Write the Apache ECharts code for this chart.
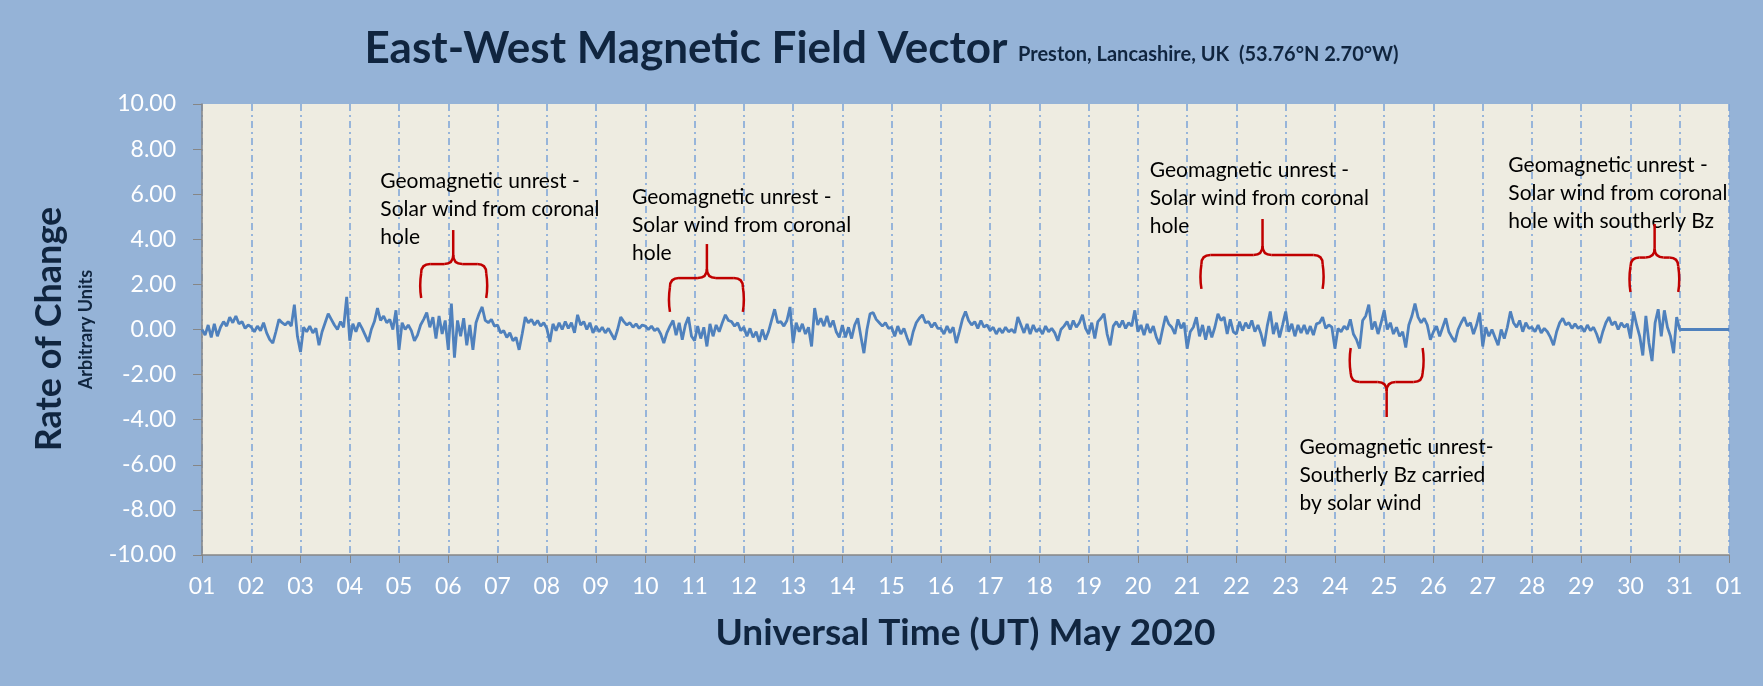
<!DOCTYPE html>
<html><head><meta charset="utf-8">
<script src="https://cdn.jsdelivr.net/npm/echarts@6/dist/echarts.min.js"></script>
<style>html,body{margin:0;padding:0;background:#95B3D7}#c{width:1763px;height:686px}</style>
</head><body><div id="c"></div>
<script>
// ---- tick labels ----
const xTickLabels = ['01','02','03','04','05','06','07','08','09','10','11','12','13','14','15','16',
  '17','18','19','20','21','22','23','24','25','26','27','28','29','30','31','01'];
const yMin = -10, yMax = 10, yStep = 2;

// ---- series values: rate of change, one value every 1.5 hours (16 per day) ----
const samplesPerDay = 16;
const rocMay01to05 = [
  0.0,-0.25,0.2,-0.35,0.25,-0.3,0.1,0.35,0.15,0.55,0.3,0.6,0.25,0.35,0.05,0.2,
  0.1,-0.1,0.15,-0.05,0.3,-0.15,-0.45,-0.6,-0.1,0.45,0.3,0.2,0.35,0.15,1.1,-0.3,
  -1.0,0.1,-0.1,0.15,-0.15,0.05,-0.7,-0.1,0.3,0.7,0.45,0.2,0.0,0.35,0.1,1.45,
  -0.5,0.25,-0.1,0.3,0.05,-0.25,-0.55,0.0,0.35,0.95,0.4,0.6,0.3,0.45,0.0,0.85,
  -0.9,0.3,0.0,0.2,-0.05,-0.5,-0.25,0.2,0.45,0.75,0.1,0.55,-0.4,0.6,-0.2,0.4
];
const rocMay06to10 = [
  -0.9,1.15,-1.25,0.4,-0.3,0.5,-0.7,0.2,-0.9,0.3,0.7,1.0,0.4,0.3,0.45,0.15,
  0.2,-0.15,-0.05,-0.35,-0.15,-0.5,-0.35,-0.9,-0.2,0.55,0.3,0.45,0.2,0.4,0.15,0.3,
  0.05,-0.55,0.25,-0.05,0.3,0.0,0.35,0.05,0.3,-0.15,0.65,0.2,0.35,0.0,0.3,-0.15,
  0.15,-0.1,0.1,-0.15,0.05,-0.2,-0.45,0.0,0.55,0.35,0.2,0.3,0.1,0.25,0.05,0.2,
  0.15,0.0,0.15,-0.05,0.05,-0.2,-0.6,-0.15,0.15,0.4,-0.25,0.3,-0.45,0.2,0.55,-0.3
];
const rocMay11to15 = [
  -0.5,0.15,-0.4,0.1,-0.75,0.25,-0.3,0.2,-0.1,0.3,0.65,0.4,0.35,0.15,0.3,-0.05,
  0.1,-0.3,0.05,-0.35,-0.1,-0.55,0.0,-0.45,-0.1,0.4,0.9,0.3,0.35,0.15,0.4,1.0,
  -0.6,0.3,-0.1,0.25,-0.2,0.1,-0.75,0.95,0.2,0.5,0.15,0.6,0.1,0.4,-0.1,-0.35,
  0.2,-0.35,0.1,-0.4,0.2,0.5,-0.3,-1.05,0.0,0.7,0.75,0.45,0.3,0.15,0.3,0.05,
  0.1,-0.3,0.15,-0.2,0.05,-0.35,-0.7,-0.1,0.3,0.5,0.65,0.3,0.35,0.1,0.3,0.05
];
const rocMay16to20 = [
  0.05,-0.2,0.15,-0.15,0.1,-0.6,-0.1,0.45,0.8,0.4,0.2,0.35,0.05,0.4,0.1,0.2,
  -0.05,0.1,-0.2,0.05,-0.15,0.1,-0.1,0.0,-0.15,0.55,0.2,-0.15,0.25,-0.2,0.2,-0.1,
  0.05,-0.2,0.15,-0.1,0.05,-0.15,-0.5,0.0,0.15,0.35,0.0,0.4,0.1,0.3,0.65,0.05,
  -0.2,0.3,-0.4,0.35,0.5,0.7,-0.2,-0.7,0.15,0.35,0.1,0.4,0.05,0.3,0.15,0.85,
  -0.1,0.2,-0.25,0.25,-0.15,0.15,-0.35,-0.65,0.0,0.6,0.25,0.1,-0.2,0.45,0.05,0.3
];
const rocMay21to25 = [
  -0.85,-0.1,0.1,0.55,-0.3,0.2,-0.45,0.15,-0.35,0.1,0.7,0.4,0.55,-0.2,0.45,-0.1,
  -0.2,0.35,-0.05,0.3,0.05,0.4,-0.1,0.2,-0.2,-0.75,0.15,0.8,-0.2,0.3,-0.35,0.2,
  0.8,-0.1,0.25,-0.3,0.2,-0.15,0.2,-0.2,0.15,-0.25,0.25,0.3,0.55,0.05,0.2,0.1,
  -0.85,0.05,-0.1,0.15,0.0,0.45,-0.2,-0.45,-0.85,0.4,0.6,1.1,0.0,0.35,-0.2,0.3,
  0.85,0.0,0.3,-0.2,0.1,-0.3,-0.1,-0.8,0.2,0.6,1.15,0.55,0.3,0.5,0.2,-0.45
];
const rocMay26to30 = [
  -0.1,0.15,-0.3,0.1,0.5,-0.1,-0.35,-0.55,0.0,0.3,0.55,0.15,0.3,-0.2,0.2,0.75,
  -0.75,0.1,-0.3,0.0,-0.35,-0.7,0.0,-0.4,0.1,0.8,0.3,0.1,0.4,-0.1,0.3,0.05,
  0.1,-0.1,0.2,-0.15,0.05,-0.1,-0.35,-0.7,-0.1,0.3,0.5,0.2,0.3,0.05,0.25,0.05,
  0.15,-0.1,0.2,-0.05,0.1,-0.2,-0.6,-0.1,0.3,0.55,0.2,0.35,0.0,0.3,0.1,0.25,
  -0.4,0.8,0.2,-0.3,-1.15,0.6,-0.6,-1.4,0.3,0.9,-0.3,0.85,0.1,-0.3,-1.05,0.55
];
// 31 May (no data) plotted flat at zero: [day offset, value]
const rocMay31 = [[30, 0], [31, 0]];

// ---- annotations (data coordinates: day offset from 1 May, value) ----
const annotationTexts = [
  'Geomagnetic unrest -\nSolar wind from coronal\nhole',
  'Geomagnetic unrest -\nSolar wind from coronal\nhole',
  'Geomagnetic unrest -\nSolar wind from coronal\nhole',
  'Geomagnetic unrest-\nSoutherly Bz carried\nby solar wind',
  'Geomagnetic unrest -\nSolar wind from coronal\nhole with southerly Bz'
];
const annotationAnchors = [[3.62,7.18],[8.73,6.47],[19.24,7.67],[22.28,-4.61],[26.52,7.89]];
// braces: [xStart, xEnd, xTip, yEnds, yBar, yTip]
const braces = [
  [4.45, 5.77, 5.10, 1.40, 2.90, 4.41],
  [9.50, 10.98, 10.25, 0.78, 2.28, 3.79],
  [20.29, 22.75, 21.53, 1.80, 3.30, 4.90],
  [23.32, 24.78, 24.05, -0.82, -2.33, -3.88],
  [29.00, 29.97, 29.49, 1.66, 3.19, 4.68]
];

const allValues = [].concat(rocMay01to05, rocMay06to10, rocMay11to15, rocMay16to20, rocMay21to25, rocMay26to30);
const seriesData = allValues.map((v, i) => [i / samplesPerDay, v]).concat(rocMay31);

const navy = '#10253F';
const chart = echarts.init(document.getElementById('c'));
const option = {
  backgroundColor: '#95B3D7',
  animation: false,
  title: {
    left: 'center', top: 14,
    text: '{a|East-West Magnetic Field Vector }{b|Preston, Lancashire, UK  (53.76°N 2.70°W)}',
    textStyle: {
      rich: {
        a: { fontFamily: 'Lato', fontWeight: 'bold', fontSize: 44, color: navy, verticalAlign: 'bottom', lineHeight: 52 },
        b: { fontFamily: 'Lato', fontWeight: 'bold', fontSize: 20, color: navy, verticalAlign: 'bottom', lineHeight: 52, padding: [0, 0, 6, 0] }
      }
    }
  },
  grid: { left: 202, top: 104, width: 1527, height: 451, show: true, backgroundColor: '#EEECE1', borderWidth: 0 },
  xAxis: {
    type: 'value', min: 0, max: 31, interval: 1,
    name: 'Universal Time (UT) May 2020', nameLocation: 'middle', nameGap: 60,
    nameTextStyle: { fontFamily: 'Lato', fontWeight: 'bold', fontSize: 37, color: navy },
    axisLine: { show: true, onZero: false, lineStyle: { color: '#868686', width: 1.5 } },
    axisTick: { show: true, length: 8, lineStyle: { color: '#868686' } },
    axisLabel: { color: '#fff', fontFamily: 'Lato', fontSize: 23, margin: 20, formatter: v => xTickLabels[Math.round(v)] },
    splitLine: { show: true, lineStyle: { color: '#7BA3D8', width: 1.5, type: [7, 4, 2, 4] } }
  },
  yAxis: {
    type: 'value', min: yMin, max: yMax, interval: yStep,
    name: 'Arbitrary Units', nameLocation: 'middle', nameRotate: 90, nameGap: 107,
    nameTextStyle: { fontFamily: 'Lato', fontWeight: 'bold', fontSize: 18, color: navy },
    axisLine: { show: true, lineStyle: { color: '#868686', width: 1.5 } },
    axisTick: { show: true, length: 9, lineStyle: { color: '#868686' } },
    axisLabel: { color: '#fff', fontFamily: 'Lato', fontSize: 23, margin: 26, formatter: v => v.toFixed(2) },
    splitLine: { show: false }
  },
  series: [{
    type: 'line', data: seriesData, showSymbol: false, symbol: 'none',
    lineStyle: { color: '#4F81BD', width: 2.8 }
  }]
};
chart.setOption(option);

const px = (x, y) => chart.convertToPixel({ gridIndex: 0 }, [x, y]);
const graphics = [];
graphics.push({ type: 'text', x: 49, y: 329, rotation: Math.PI / 2,
  style: { text: 'Rate of Change', align: 'center', verticalAlign: 'middle', fontFamily: 'Lato', fontWeight: 'bold', fontSize: 36, fill: navy } });

annotationTexts.forEach((t, i) => {
  const p = px(annotationAnchors[i][0], annotationAnchors[i][1]);
  graphics.push({ type: 'text', x: p[0], y: p[1],
    style: { text: t, align: 'left', verticalAlign: 'top', fontFamily: 'Lato', fontSize: 21, fill: '#000', lineHeight: 28 } });
});

const braceStyle = { stroke: '#C00000', lineWidth: 2.5, fill: 'none' };
braces.forEach(b => {
  const a = px(b[0], b[3]), c = px(b[1], b[3]);
  const bar = px(b[2], b[4]), tip = px(b[2], b[5]);
  const x1 = a[0], x2 = c[0], xc = bar[0], ye = a[1], yb = bar[1], yt = tip[1];
  const s = yt < yb ? -1 : 1; // tip direction (screen)
  const r = 9;
  const children = [];
  [[x1, 1], [x2, -1]].forEach(([xe, dir]) => {
    children.push({ type: 'bezierCurve', shape: { x1: xe, y1: ye, x2: xe, y2: yb - s * r,
      cpx1: xe - dir * 2, cpy1: (ye + yb - s * r) / 2 }, style: braceStyle });
    children.push({ type: 'bezierCurve', shape: { x1: xe, y1: yb - s * r, x2: xe + dir * r, y2: yb,
      cpx1: xe, cpy1: yb }, style: braceStyle });
    children.push({ type: 'line', shape: { x1: xe + dir * r, y1: yb, x2: xc - dir * r, y2: yb }, style: braceStyle });
    children.push({ type: 'bezierCurve', shape: { x1: xc - dir * r, y1: yb, x2: xc, y2: yb + s * r,
      cpx1: xc, cpy1: yb }, style: braceStyle });
  });
  children.push({ type: 'line', shape: { x1: xc, y1: yb + s * r, x2: xc, y2: yt }, style: braceStyle });
  graphics.push({ type: 'group', children: children });
});
chart.setOption({ graphic: graphics });
</script></body></html>
